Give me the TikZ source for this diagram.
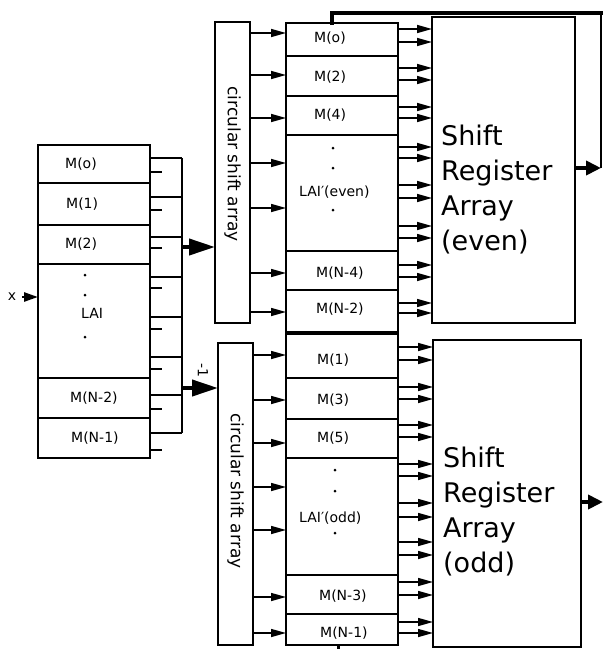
\documentclass[tikz,border=0pt]{standalone}
\usepackage{fontspec}
\setmainfont{DejaVu Sans}
\usetikzlibrary{arrows.meta}
\begin{document}
\begin{tikzpicture}[x=1pt,y=-1pt,
  box/.style={draw, line width=1.5pt, inner sep=0pt, outer sep=0pt, anchor=north west},
  lbl/.style={inner sep=0pt, font=\fontsize{14pt}{16pt}\selectfont},
  rlbl/.style={inner sep=0pt, font=\fontsize{17pt}{19pt}\selectfont, rotate=-90},
  bigtxt/.style={inner sep=0pt, align=left, anchor=west, font=\fontsize{27pt}{35pt}\selectfont},
  dotmark/.style={circle, fill, inner sep=0pt, minimum size=3pt},
  wire/.style={line width=1.5pt},
  arr/.style={line width=1.5pt, -{Triangle[length=15pt,width=8pt]}},
  bigarrow/.style={line width=4pt, -{Triangle[length=26pt,width=16pt]}},
  xarrow/.style={line width=2.5pt, -{Triangle[length=14pt,width=9pt]}},
  outarrow/.style={line width=4.5pt, -{Triangle[length=15pt,width=14pt]}},
  heavy/.style={line width=4.5pt}
]
\fill[white] (0,0) rectangle (603,649);
\useasboundingbox (0,0) rectangle (603,649);

% ---------- left LAI block ----------
\node[box, minimum width=112pt, minimum height=38pt]  (L0)  at (38,145) {};
\node[box, minimum width=112pt, minimum height=42pt]  (L1)  at (38,183) {};
\node[box, minimum width=112pt, minimum height=39pt]  (L2)  at (38,225) {};
\node[box, minimum width=112pt, minimum height=114pt] (LL)  at (38,264) {};
\node[box, minimum width=112pt, minimum height=40pt]  (LN2) at (38,378) {};
\node[box, minimum width=112pt, minimum height=40pt]  (LN1) at (38,418) {};
\node[lbl, anchor=west] (tL0)  at (65,164) {M(o)};
\node[lbl, anchor=west] (tL1)  at (66,204) {M(1)};
\node[lbl, anchor=west] (tL2)  at (65,244) {M(2)};
\node[lbl, anchor=west] (tLN2) at (70,398) {M(N-2)};
\node[lbl, anchor=west] (tLN1) at (71,438) {M(N-1)};
\node[dotmark] (dL1) at (85,275) {};
\node[dotmark] (dL2) at (85,295) {};
\node[lbl, anchor=west] (tLL) at (81,313) {LAI};
\node[dotmark] (dL3) at (85,337) {};

% input x
\node[lbl] (xin) at (12,297) {x};
\coordinate (xs) at (22,297);
\draw[xarrow] (xs) -- (xs -| LL.west);

% outputs of left block to bus
\foreach \y [count=\i] in {158,197,237,277,317,357,395,433} {
  \coordinate (la\i) at (150,\y);
  \coordinate (lb\i) at (182,\y);
  \draw[wire] (la\i) -- (lb\i);
}
\foreach \y [count=\i] in {172,210,248,288,329,369,409,450} {
  \coordinate (sa\i) at (150,\y);
  \coordinate (sb\i) at (162,\y);
  \draw[wire] (sa\i) -- (sb\i);
}
\draw[wire] (lb1) -- (lb8);

% ---------- circular shift arrays ----------
\node[box, minimum width=35pt, minimum height=301pt] (C1) at (215,22) {};
\node[box, minimum width=35pt, minimum height=302pt] (C2) at (218,343) {};
\node[rlbl] (tC1) at (232.5,164) {circular shift array};
\node[rlbl] (tC2) at (235.5,491) {circular shift array};

\coordinate (busA) at (182,247);
\coordinate (busB) at (182,388);
\draw[bigarrow] (busA) -- (busA -| C1.west);
\draw[bigarrow] (busB) -- (busB -| C2.west);
\node[lbl, rotate=-90] (tm1) at (203,370) {-1};

% ---------- even block ----------
\node[box, minimum width=112pt, minimum height=33pt]  (E0)  at (286,23) {};
\node[box, minimum width=112pt, minimum height=40pt]  (E2)  at (286,56) {};
\node[box, minimum width=112pt, minimum height=39pt]  (E4)  at (286,96) {};
\node[box, minimum width=112pt, minimum height=116pt] (EL)  at (286,135) {};
\node[box, minimum width=112pt, minimum height=39pt]  (EN4) at (286,251) {};
\node[box, minimum width=112pt, minimum height=43pt]  (EN2) at (286,290) {};
\node[lbl, anchor=west] (tE0)  at (314,38) {M(o)};
\node[lbl, anchor=west] (tE2)  at (314,77) {M(2)};
\node[lbl, anchor=west] (tE4)  at (314,115) {M(4)};
\node[lbl, anchor=west] (tEN4) at (316,273) {M(N-4)};
\node[lbl, anchor=west] (tEN2) at (316,309) {M(N-2)};
\node[dotmark] (dE1) at (333,148) {};
\node[dotmark] (dE2) at (333,168) {};
\node[lbl, anchor=west] (tEL) at (299,192) {LAI′(even)};
\node[dotmark] (dE3) at (333,210) {};

% ---------- odd block ----------
\node[box, minimum width=112pt, minimum height=45pt]  (O1)  at (286,333) {};
\node[box, minimum width=112pt, minimum height=41pt]  (O3)  at (286,378) {};
\node[box, minimum width=112pt, minimum height=39pt]  (O5)  at (286,419) {};
\node[box, minimum width=112pt, minimum height=117pt] (OL)  at (286,458) {};
\node[box, minimum width=112pt, minimum height=39pt]  (ON3) at (286,575) {};
\node[box, minimum width=112pt, minimum height=31pt]  (ON1) at (286,614) {};
\node[lbl, anchor=west] (tO1)  at (317,360) {M(1)};
\node[lbl, anchor=west] (tO3)  at (317,400) {M(3)};
\node[lbl, anchor=west] (tO5)  at (317,438) {M(5)};
\node[lbl, anchor=west] (tON3) at (319,596) {M(N-3)};
\node[lbl, anchor=west] (tON1) at (320,633) {M(N-1)};
\node[dotmark] (dO1) at (335,470) {};
\node[dotmark] (dO2) at (335,491) {};
\node[lbl, anchor=west] (tOL) at (299,518) {LAI′(odd)};
\node[dotmark] (dO3) at (335,533) {};

\draw[heavy] (EN2.south west) -- (EN2.south east);

% shift array outputs
\foreach \y [count=\i] in {33,75,118,163,208,273,312} {
  \coordinate (ca\i) at (250,\y);
  \draw[arr] (ca\i) -- (ca\i -| E0.west);
}
\foreach \y [count=\i] in {355,400,443,487,530,597,633} {
  \coordinate (cb\i) at (253,\y);
  \draw[arr] (cb\i) -- (cb\i -| O1.west);
}

% ---------- shift register arrays ----------
\node[box, minimum width=143pt, minimum height=306pt] (SE) at (432,17) {};
\node[box, minimum width=148pt, minimum height=307pt] (SO) at (433,340) {};
\node[bigtxt] (tSE) at (441,190) {Shift\\Register\\Array\\(even)};
\node[bigtxt] (tSO) at (443,512) {Shift\\Register\\Array\\(odd)};

\foreach \y in {29,42,68,80,107,118,147,158,185,198,226,238,265,277,303,313} {
  \coordinate (ea\y) at (398,\y);
  \draw[arr] (ea\y) -- (ea\y -| SE.west);
}
\foreach \y in {347,360,387,399,425,437,464,476,503,517,542,555,582,595,622,633} {
  \coordinate (oa\y) at (398,\y);
  \draw[arr] (oa\y) -- (oa\y -| SO.west);
}

% feedback loop of the even array
\coordinate (fb1) at (601,168);
\coordinate (fb2) at (601,13);
\coordinate (fb3) at (332,13);
\draw[outarrow] (fb1 -| SE.east) -- (fb1);
\draw[wire] (fb1) -- (fb2);
\draw[heavy, line cap=rect] (fb2) -- (fb3) -- (fb3 |- E0.north);

% output of the odd array
\coordinate (out2) at (603,502);
\draw[outarrow] (out2 -| SO.east) -- (out2);

% bottom stub
\coordinate (bt) at (338,649);
\draw[line width=3pt] (bt |- ON1.south) -- (bt);
\end{tikzpicture}
\end{document}
